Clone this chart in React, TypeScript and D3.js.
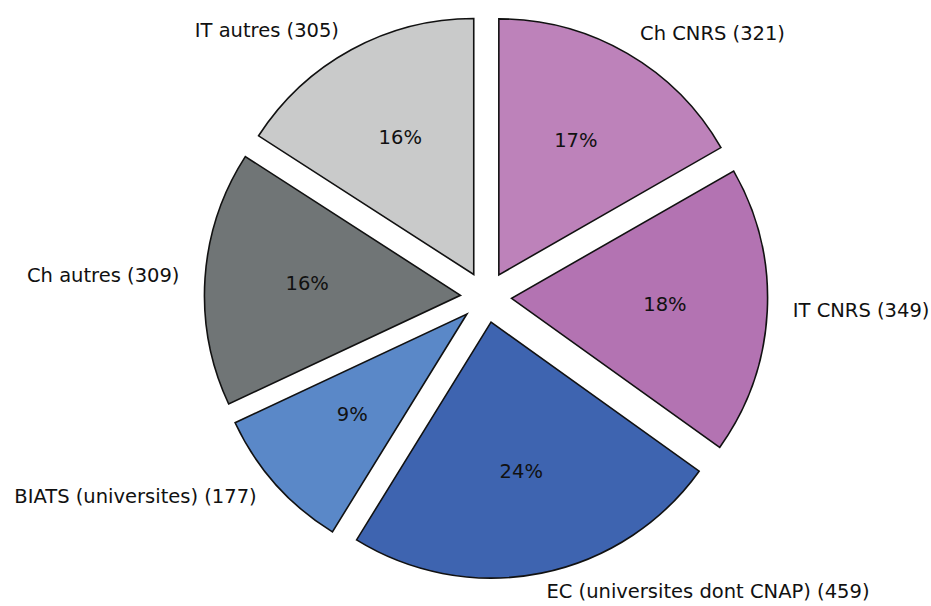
import React from "react";
import * as d3 from "d3";

const labels = [
  "Ch CNRS",
  "IT CNRS",
  "EC (universites dont CNAP)",
  "BIATS (universites)",
  "Ch autres",
  "IT autres",
];
const values = [321, 349, 459, 177, 309, 305];
const colors = ["#bd82ba", "#b373b2", "#3e64b0", "#5a88c8", "#707576", "#c9caca"];

const W = 931;
const H = 606;
const CX = 486;
const CY = 297;
const R = 256;
const EXPLODE = 0.1;
const FONT = "'DejaVu Sans', Verdana, sans-serif";
const FS = 19.5;

export default function App() {
  const total = d3.sum(values);
  const pie = d3
    .pie<number>()
    .sort(null)
    .startAngle(0)
    .endAngle(2 * Math.PI)
    .value((d) => d);
  const arcs = pie(values);
  const arc = d3.arc<d3.PieArcDatum<number>>().innerRadius(0).outerRadius(R);

  return (
    <svg
      width={W}
      height={H}
      style={{ position: "absolute", left: 0, top: 0, background: "#fff" }}
    >
      {arcs.map((a, i) => {
        const mid = (a.startAngle + a.endAngle) / 2;
        const ux = Math.sin(mid);
        const uy = -Math.cos(mid);
        const ox = CX + ux * R * EXPLODE;
        const oy = CY + uy * R * EXPLODE;
        const lx = ox + ux * R * 1.1;
        const ly = oy + uy * R * 1.08 - 2;
        const px = ox + ux * R * 0.6;
        const py = oy + uy * R * 0.6 - 2;
        const pct = Math.round((values[i] / total) * 100);
        return (
          <g key={i}>
            <path
              d={arc(a) || ""}
              transform={`translate(${ox},${oy})`}
              fill={colors[i]}
              stroke="#111"
              strokeWidth={1.6}
              strokeLinejoin="miter"
            />
            <text
              x={lx}
              y={ly}
              dy="0.35em"
              textAnchor={lx > CX ? "start" : "end"}
              fontFamily={FONT}
              fontSize={FS}
              fill="#111"
            >
              {`${labels[i]} (${values[i]})`}
            </text>
            <text
              x={px}
              y={py}
              dy="0.35em"
              textAnchor="middle"
              fontFamily={FONT}
              fontSize={FS}
              fill="#111"
            >
              {`${pct}%`}
            </text>
          </g>
        );
      })}
    </svg>
  );
}
